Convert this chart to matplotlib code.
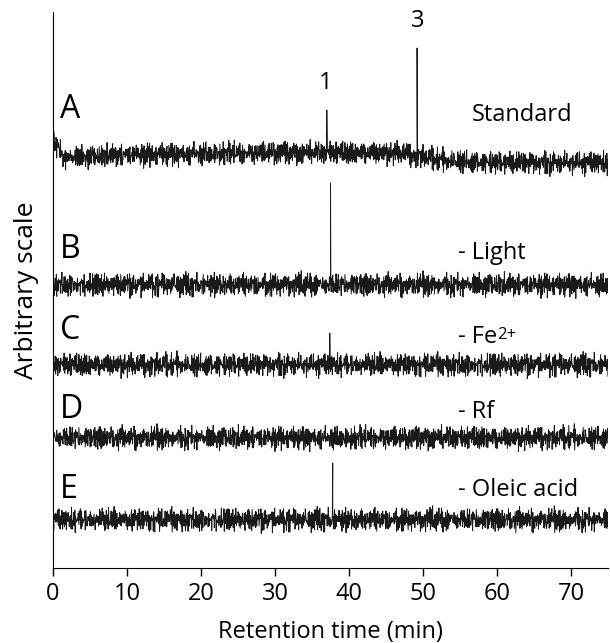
import numpy as np
import matplotlib
matplotlib.use('Agg')
import matplotlib.pyplot as plt

plt.rcParams['font.family'] = ['Open Sans', 'DejaVu Sans']

# Trace names, side labels and flat baseline levels (arbitrary units)
trace_letters = ['A', 'B', 'C', 'D', 'E']
trace_names = ['Standard', '- Light', '- Fe', '- Rf', '- Oleic acid']
trace_sups = ['', '', '2+', '', '']
baselines = [416, 283, 203, 130, 48]

# Baseline drift of trace A read at a few retention times
drift_a_time = [0.0, 1.5, 10, 30, 47, 53, 60, 75]
drift_a_level = [428, 410, 413, 415, 415, 407, 405, 405]

# Peaks: trace index, retention time (min), apex level
peak_trace = [0, 0, 1, 2, 4]
peak_time = [37.0, 49.2, 37.5, 37.4, 37.8]
peak_apex = [458, 520, 385, 235, 105]

# Numbered peaks in the standard
peak_numbers = ['1', '3']
peak_number_time = [36.9, 49.3]

# Hand-typed baseline noise texture (two short lists, cycled)
noise_a = [0.3, -0.8, 0.5, 0.1, -0.4, 0.9, -0.2, -0.7, 0.6, 0.2, -0.9, 0.4,
           -0.1, 0.8, -0.5, 0.0, 0.7, -0.6, 0.3, -0.3, 1.0, -0.8, 0.2, 0.5,
           -0.4, -0.1, 0.6, -0.9, 0.4, 0.1, -0.6, 0.8, -0.2, 0.3, -0.7, 0.5,
           -0.3, 0.9, -0.5, 0.0, 0.6, -0.8, 0.2, -0.4, 0.7, -0.1, -0.6]
noise_b = [-0.5, 0.7, 0.2, -0.9, 0.4, -0.3, 0.8, 0.0, -0.6, 0.5, -0.2, 0.9,
           -0.7, 0.3, 0.1, -0.8, 0.6, -0.4, 0.2, 0.7, -0.5, -0.1, 0.9, -0.6,
           0.4, -0.9, 0.3, 0.5, -0.3, 0.1, -0.7, 0.8, -0.2, 0.6, -0.8, 0.0,
           0.4, -0.5, 0.7, -0.1, 0.2, -0.9, 0.6, -0.4, 0.3, 0.8, -0.6, 0.1,
           -0.3, 0.5, -0.7, 0.9, -0.2, 0.0, -0.8, 0.4, 0.6, -0.5, 0.2, -0.1, 0.7]
noise_amp = 7.5

x_ticks = [0, 10, 20, 30, 40, 50, 60, 70]

# label offsets above each baseline
letter_dy = [43, 36, 35, 29, 31]
name_dy = [37, 32, 28, 26, 30]
name_x = [56.6, 54.7, 54.7, 54.7, 54.7]


def trace(k, t):
    na, nb = np.array(noise_a), np.array(noise_b)
    idx = np.arange(len(t))
    y = noise_amp * (na[(idx + 7 * k) % len(na)] + nb[(idx * 3 + 11 * k) % len(nb)])
    if k == 0:
        y = y + np.interp(t, drift_a_time, drift_a_level)
    else:
        y = y + baselines[k]
    # insert the peak apexes as extra points
    for tr, pt, pa in zip(peak_trace, peak_time, peak_apex):
        if tr == k:
            t = np.append(t, pt)
            y = np.append(y, pa)
    order = np.argsort(t)
    return t[order], y[order]


fig = plt.figure(figsize=(6.10, 6.43), dpi=100)
ax = fig.add_axes([0.0869, 0.1166, 0.9098, 0.8647])

t = np.arange(0, 75.001, 0.05)
for k in range(len(trace_letters)):
    tk, yk = trace(k, t)
    ax.plot(tk, yk, color='#1a1a1a', lw=0.7)
    ax.text(0.9, baselines[k] + letter_dy[k], trace_letters[k],
            fontsize=23, ha='left', va='center')
    txt = ax.text(name_x[k], baselines[k] + name_dy[k], trace_names[k],
                  fontsize=17, ha='left', va='center')
    if trace_sups[k]:
        ax.annotate(trace_sups[k], xy=(1.0, 0.93), xycoords=txt,
                    fontsize=12, ha='left', va='top')

for lab, pt, pa in zip(peak_numbers, peak_number_time, peak_apex[:2]):
    ax.text(pt, pa + 27, lab, fontsize=17, ha='center', va='center')

ax.set_xlim(0, 75)
ax.set_ylim(0, 556)
ax.set_xticks(x_ticks)
ax.set_yticks([])
ax.tick_params(axis='x', labelsize=17, length=6, width=1, pad=4)
ax.spines['top'].set_visible(False)
ax.spines['right'].set_visible(False)
ax.set_xlabel('Retention time (min)', fontsize=17, labelpad=10)
ax.set_ylabel('Arbitrary scale', fontsize=19, labelpad=10)

fig.savefig('out.png', dpi=100)
